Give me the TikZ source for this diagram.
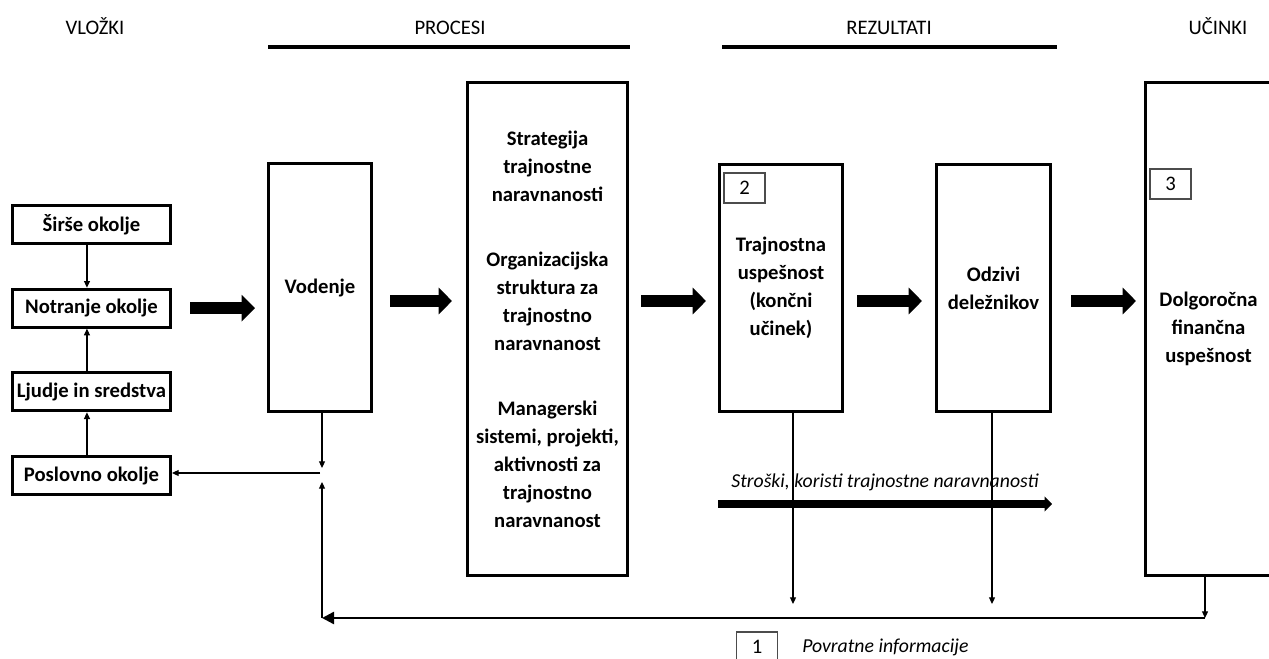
\documentclass[tikz,border=0pt]{standalone}
\usepackage{fontspec}
\setmainfont{Carlito}
\usetikzlibrary{arrows.meta,positioning,calc}
\tikzset{
  >={Triangle[length=5pt,width=4.5pt]},
  box/.style={draw,line width=2.25pt,align=center,inner sep=2pt,font=\fontsize{15.5}{21}\selectfont\bfseries},
  lbox/.style={box,minimum width=118.5pt,minimum height=28.5pt},
  numbox/.style={draw=black!70,line width=0.8pt,minimum width=30.75pt,minimum height=22.5pt,font=\fontsize{15.5}{21}\selectfont},
  head/.style={anchor=base,font=\fontsize{15.5}{21}\selectfont},
  note/.style={font=\fontsize{14.8}{20}\selectfont\itshape,inner sep=0pt},
  link/.style={->,line width=0.8pt},
  bigarrow/.style={-{Triangle[length=10pt,width=19.5pt]},line width=9pt},
  costarrow/.style={-{Triangle[length=5.5pt,width=11pt]},line width=6pt},
  feedback/.style={-{Triangle[length=9pt,width=9pt]},line width=1.8pt},
  rule/.style={line width=3pt},
}

\begin{document}
\begin{tikzpicture}[x=0.75pt,y=-0.75pt]
  \useasboundingbox (0,0) rectangle (1269,659);
  \clip (0,0) rectangle (1269,659);
  % headings
  \node[head] (vlozki) at (95,35) {VLOŽKI};
  \node[head] (procesi) at (450,35) {PROCESI};
  \node[head] (rezultati) at (889,35) {REZULTATI};
  \node[head] (ucinki) at (1218,35) {UČINKI};
  \draw[rule] (268,47) -- (630,47);
  \draw[rule] (722,47) -- (1057,47);
  % inputs
  \node[lbox] (sirse) at (91.5,224.5) {Širše okolje};
  \node[lbox,below=32pt of sirse] (notranje) {Notranje okolje};
  \node[lbox,below=32pt of notranje] (ljudje) {Ljudje in sredstva};
  \node[lbox,below=32pt of ljudje] (poslovno) {Poslovno okolje};
  \draw[link] ([xshift=-3.4pt]sirse.south) -- ([xshift=-3.4pt]notranje.north);
  \draw[link] ([xshift=-3.4pt]ljudje.north) -- ([xshift=-3.4pt]notranje.south);
  \draw[link] ([xshift=-3.4pt]poslovno.north) -- ([xshift=-3.4pt]ljudje.south);
  % main boxes
  \node[box,minimum width=77.25pt,minimum height=186pt] (vodenje) at (320,287.5) {Vodenje};
  \node[box,minimum width=120pt,minimum height=369.75pt] (strat) at (547.5,329)
    {Strategija\\trajnostne\\naravnanosti\\[27.75pt]Organizacijska\\struktura za\\trajnostno\\naravnanost\\[27.75pt]Managerski\\sistemi, projekti,\\aktivnosti za\\trajnostno\\naravnanost};
  \node[box,minimum width=92.25pt,minimum height=185.25pt] (trajn) at (781,288)
    {Trajnostna\\uspešnost\\(končni\\učinek)};
  \node[box,minimum width=85.5pt,minimum height=185.25pt] (odzivi) at (993.5,288)
    {Odzivi\\deležnikov};
  \node[box,minimum width=94.5pt,minimum height=369.75pt] (dolg) at (1208.5,329)
    {Dolgoročna\\finančna\\uspešnost};
  \node[numbox] (num2) at (744.5,188) {2};
  \node[numbox] (num3) at (1170.5,184) {3};
  % thick arrows
  \coordinate (arrY) at (0,301);
  \draw[bigarrow] ([xshift=13.5pt]notranje.east) -- ($(notranje.east -| vodenje.west)+(-9pt,0)$);
  \draw[bigarrow] ($(vodenje.east |- arrY)+(12.75pt,0)$) -- ($(strat.west |- arrY)+(-10.5pt,0)$);
  \draw[bigarrow] ($(strat.east |- arrY)+(9pt,0)$) -- ($(trajn.west |- arrY)+(-9pt,0)$);
  \draw[bigarrow] ($(trajn.east |- arrY)+(9.75pt,0)$) -- ($(odzivi.west |- arrY)+(-9.75pt,0)$);
  \draw[bigarrow] ($(odzivi.east |- arrY)+(14.25pt,0)$) -- ($(dolg.west |- arrY)+(-6pt,0)$);
  % costs and benefits
  \coordinate (costY) at (0,504);
  \draw[costarrow] (trajn.west |- costY) -- (odzivi.east |- costY)
    node[note,midway,above=6.5pt] (stroski) {Stroški, koristi trajnostne naravnanosti};
  % feedback
  \coordinate (vodD) at (322,468);
  \coordinate (vodM) at (320,473);
  \coordinate (vodU) at (322,482);
  \coordinate (fbL) at (322,618);
  \coordinate (fbR) at (1205,618);
  \coordinate (trajnD) at (793,604);
  \coordinate (odzD) at (992,604);
  \draw[link] (vodenje.south -| vodD) -- (vodD);
  \draw[link] (vodM) -- (poslovno.east |- vodM);
  \draw[link] (trajn.south -| trajnD) -- (trajnD);
  \draw[link] (odzivi.south -| odzD) -- (odzD);
  \draw[link] (dolg.south -| fbR) -- (fbR);
  \draw[feedback] (fbR) -- (fbL);
  \draw[link] (fbL) -- (vodU);
  \node[numbox] (num1) at (757,647) {1};
  \node[note,right=18pt of num1] (povratne) {Povratne informacije};
\end{tikzpicture}
\end{document}
